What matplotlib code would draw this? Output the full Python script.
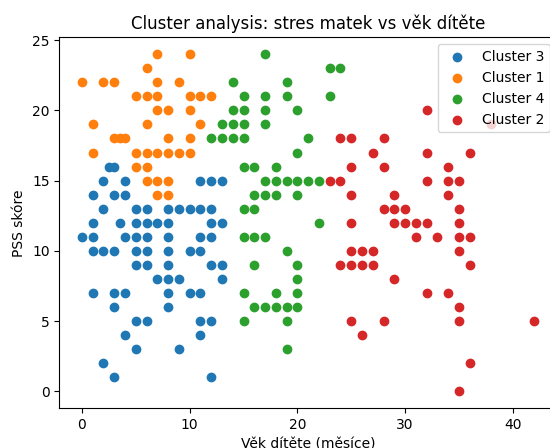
import matplotlib
matplotlib.use("Agg")
import matplotlib.pyplot as plt

# Cluster 3 (blue)
c3_age = [2.5, 3,
          2, 4, 11, 12, 13,
          1, 3, 4,
          2, 5, 6, 8, 9, 10, 11, 12,
          1, 3.5, 5, 6, 7, 8, 12, 13,
          0, 1, 4, 5, 6, 8, 11, 12,
          1, 2, 3, 5, 6, 8, 10, 11,
          5, 6, 8, 12, 13,
          7, 8, 9, 13,
          1, 3, 4, 8, 10, 11,
          3, 8,
          5, 6, 11, 12,
          4, 11,
          5, 9,
          2,
          3, 12]
c3_pss = [16, 16,
          15, 15, 15, 15, 15,
          14, 14, 14,
          13, 13, 13, 13, 13, 13, 13, 13,
          12, 12, 12, 12, 12, 12, 12, 12,
          11, 11, 11, 11, 11, 11, 11, 11,
          10, 10, 10, 10, 10, 10, 10, 10,
          9, 9, 9, 9, 9,
          8, 8, 8, 8,
          7, 7, 7, 7, 7, 7,
          6, 6,
          5, 5, 5, 5,
          4, 4,
          3, 3,
          2,
          1, 1]

# Cluster 1 (orange)
c1_age = [7, 10,
          6,
          0, 2, 3, 7, 9,
          5, 6, 7, 10, 11, 12,
          7, 8, 10,
          1, 6, 11,
          3, 3.5, 4, 8, 10,
          1, 5, 6, 7, 8, 9, 10,
          5, 6,
          6, 7, 8,
          7, 8]
c1_pss = [24, 24,
          23,
          22, 22, 22, 22, 22,
          21, 21, 21, 21, 21, 21,
          20, 20, 20,
          19, 19, 19,
          18, 18, 18, 18, 18,
          17, 17, 17, 17, 17, 17, 17,
          16, 16,
          15, 15, 15,
          14, 14]

# Cluster 4 (green)
c4_age = [17,
          23, 24,
          14, 19,
          15, 17, 19, 23,
          14, 15, 17, 20,
          13, 14, 15, 17,
          12, 13, 14, 15, 21,
          20,
          15, 16, 18,
          17, 18, 19, 20, 21, 22,
          16, 17, 18, 20,
          15, 16,
          22,
          15, 16, 17,
          19,
          16, 20,
          20,
          15, 18, 20,
          16, 17, 18, 19, 20,
          15, 19,
          19]
c4_pss = [24,
          23, 23,
          22, 22,
          21, 21, 21, 21,
          20, 20, 20, 20,
          19, 19, 19, 19,
          18, 18, 18, 18, 18,
          17,
          16, 16, 16,
          15, 15, 15, 15, 15, 15,
          14, 14, 14, 14,
          13, 13,
          12,
          11, 11, 11,
          10,
          9, 9,
          8,
          7, 7, 7,
          6, 6, 6, 6, 6,
          5, 5,
          3]

# Cluster 2 (red)
c2_age = [32,
          38,
          24, 25, 28,
          27, 32, 36,
          25, 28, 34,
          23, 24, 32, 34, 35,
          25, 29, 34,
          28, 29, 30, 35,
          25, 29, 30, 31, 32, 35,
          31, 33, 35, 36,
          25, 26, 27, 35,
          24, 25, 26, 27, 36,
          29,
          32, 34,
          35,
          25, 28, 35, 42,
          26,
          36,
          35]
c2_pss = [20,
          19,
          18, 18, 18,
          17, 17, 17,
          16, 16, 16,
          15, 15, 15, 15, 15,
          14, 14, 14,
          13, 13, 13, 13,
          12, 12, 12, 12, 12, 12,
          11, 11, 11, 11,
          10, 10, 10, 10,
          9, 9, 9, 9, 9,
          8,
          7, 7,
          6,
          5, 5, 5, 5,
          4,
          2,
          0]

labels = ["Cluster 3", "Cluster 1", "Cluster 4", "Cluster 2"]
series = [(c3_age, c3_pss), (c1_age, c1_pss), (c4_age, c4_pss), (c2_age, c2_pss)]

fig = plt.figure(figsize=(5.5, 4.48), dpi=100)
ax = fig.add_axes([59.3 / 550, 39.7 / 448, 497.7 / 550, 371 / 448])
for lab, (xs, ys) in zip(labels, series):
    ax.scatter(xs, ys, label=lab)

ax.set_title("Cluster analysis: stres matek vs věk dítěte")
ax.set_xlabel("Věk dítěte (měsíce)")
ax.set_ylabel("PSS skóre")
ax.legend(loc="upper right")
fig.savefig("out.png", dpi=100)
